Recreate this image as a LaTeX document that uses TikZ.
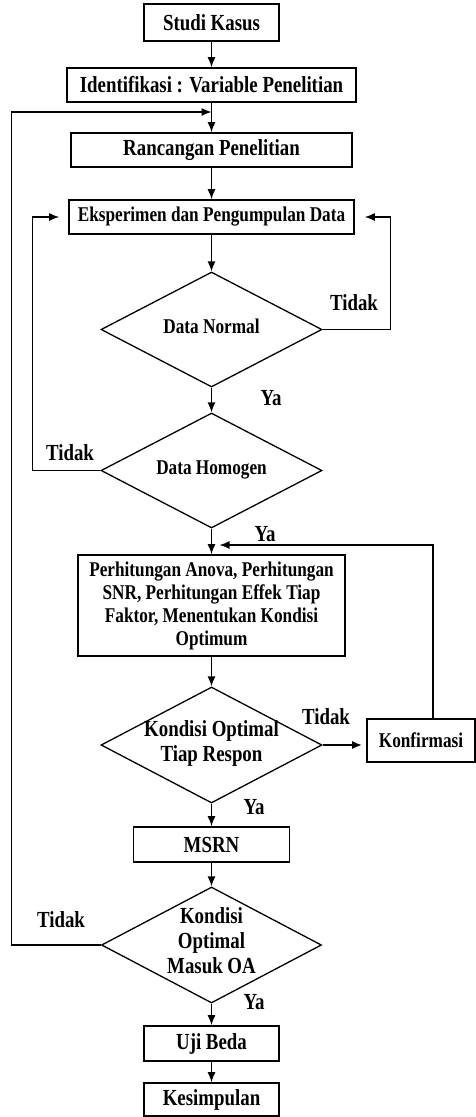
\documentclass[tikz,border=0pt]{standalone}
\usepackage{fontspec}
\setmainfont[FakeStretch=0.82]{Liberation Serif}
\usetikzlibrary{shapes.geometric,arrows.meta,calc}
\newcommand\dtext[1]{\smash{\makebox[0pt]{\raisebox{-5pt}{\begin{tabular}{@{}c@{}}#1\end{tabular}}}}}
\begin{document}
\begin{tikzpicture}[x=1pt,y=-1pt,
  every node/.style={font=\bfseries\fontsize{23}{25}\selectfont},
  box/.style={draw, line width=1.6pt, inner sep=0pt, align=center},
  dia/.style={draw, diamond, line width=1.3pt, inner sep=0pt},
  conn/.style={line width=1.3pt, -{Latex[length=10pt,width=8pt]}},
  lbl/.style={inner sep=0pt},
  small/.style={font=\bfseries\fontsize{21}{23}\selectfont}]
\useasboundingbox (0,0) rectangle (476,1117);
\def\cx{211.5}
\node[box, minimum width=135pt, minimum height=37pt] (studi) at (\cx,22.5) {Studi Kasus};
\node[box, minimum width=289pt, minimum height=34pt] (ident) at (\cx,85) {Identifikasi : Variable Penelitian};
\node[box, minimum width=281pt, minimum height=34pt] (ranc) at (\cx,150) {Rancangan Penelitian};
\node[box, small, minimum width=285pt, minimum height=34pt] (eksp) at (\cx,217) {Eksperimen dan Pengumpulan Data};
\node[dia, small, minimum width=221pt, minimum height=115pt] (dnorm) at (\cx,329.5) {\dtext{Data Normal}};
\node[dia, small, minimum width=221pt, minimum height=115pt] (dhomo) at (\cx,470.5) {\dtext{Data Homogen}};
\node[box, small, minimum width=267pt, minimum height=101pt] (perh) at (\cx,605.5) {Perhitungan Anova, Perhitungan\\SNR, Perhitungan Effek Tiap\\Faktor, Menentukan Kondisi\\Optimum};
\node[dia, minimum width=221pt, minimum height=116pt] (kopt) at (\cx,745) {\dtext{Kondisi Optimal\\Tiap Respon}};
\node[box, small, minimum width=108pt, minimum height=43pt] (konf) at (421,740.5) {Konfirmasi};
\node[box, minimum width=156pt, minimum height=35pt] (msrn) at (\cx,844.5) {MSRN};
\node[dia, minimum width=220pt, minimum height=116pt] (koa) at (\cx,945) {\dtext{Kondisi\\Optimal\\Masuk OA}};
\node[box, minimum width=135pt, minimum height=35pt] (uji) at (\cx,1043.5) {Uji Beda};
\node[box, minimum width=135pt, minimum height=33pt] (kes) at (\cx,1099.5) {Kesimpulan};
% labels
\node[lbl] (t1) at (354,303) {Tidak};
\node[lbl] (y1) at (271,398) {Ya};
\node[lbl] (t2) at (70,453) {Tidak};
\node[lbl] (y2) at (265,534) {Ya};
\node[lbl] (t3) at (326,717) {Tidak};
\node[lbl] (y3) at (254,807) {Ya};
\node[lbl] (t4) at (61,920) {Tidak};
\node[lbl] (y4) at (254,1002) {Ya};
% main flow
\draw[conn] (studi) -- (ident);
\draw[conn] (ident) -- (ranc);
\draw[conn] (ranc) -- (eksp);
\draw[conn] (eksp) -- (dnorm);
\draw[conn] (dnorm) -- (dhomo);
\draw[conn] (dhomo) -- (perh);
\draw[conn] (perh) -- (kopt);
\draw[conn] (kopt) -- (msrn);
\draw[conn] (msrn) -- (koa);
\draw[conn] (koa) -- (uji);
\draw[conn] (uji) -- (kes);
% loops
\coordinate (j1) at (\cx,112);
\coordinate (j2) at (\cx,545);
\draw[conn] (koa.west) -- ++(-89.5,0) |- (j1);
\draw[conn, shorten >=9pt] (dhomo.west) -- ++(-68,0) |- (eksp.west);
\draw[conn, shorten >=10pt] (dnorm.east) -- ++(67.5,0) |- (eksp.east);
\draw[conn, shorten >=8pt] ($(konf.north)+(12,0)$) |- (j2);
\draw[conn, line width=2pt, shorten >=4pt] (kopt.east) -- (kopt.east -| konf.west);
\end{tikzpicture}
\end{document}
